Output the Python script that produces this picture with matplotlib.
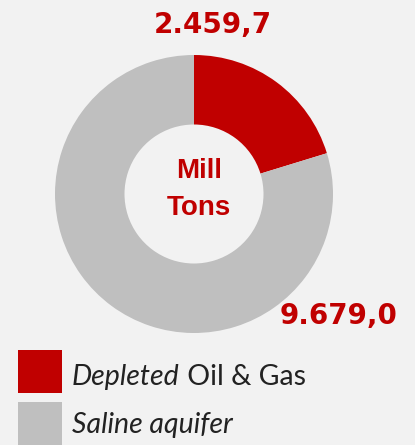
import matplotlib
matplotlib.use('Agg')
import matplotlib.pyplot as plt
from matplotlib.patches import Rectangle

CATEGORIES = ['Depleted Oil & Gas', 'Saline aquifer']
VALUES = [2459.7, 9679.0]
COLORS = ['#c00000', '#bfbfbf']
CENTER_TEXT = ['Mill', 'Tons']

BG = '#f2f2f2'
W, H = 415, 445


def fmt(v):
    # european style: 2.459,7
    s = '{:,.1f}'.format(v)
    return s.replace(',', 'X').replace('.', ',').replace('X', '.')


def main():
    fig = plt.figure(figsize=(W / 100, H / 100), dpi=100, facecolor=BG)
    ax = fig.add_axes([0, 0, 1, 1])
    ax.set_facecolor(BG)

    cx, cy, r = 194, H - 194, 139
    ax.pie(VALUES, colors=COLORS, startangle=90, counterclock=False,
           center=(cx, cy), radius=r,
           wedgeprops=dict(width=r * 0.5, linewidth=0))
    ax.set_xlim(0, W)
    ax.set_ylim(0, H)
    ax.set_aspect('equal')
    ax.axis('off')

    num_font = dict(family='DejaVu Sans', weight='bold', color='#c00000', fontsize=20)
    ax.text(213, H - 33, fmt(VALUES[0]), ha='center', va='baseline', **num_font)
    ax.text(339, H - 324, fmt(VALUES[1]), ha='center', va='baseline', **num_font)

    mid_font = dict(family='Liberation Sans', weight='bold', color='#c00000', fontsize=20)
    ax.text(199, H - 178, CENTER_TEXT[0], ha='center', va='baseline', **mid_font)
    ax.text(199, H - 215, CENTER_TEXT[1], ha='center', va='baseline', **mid_font)

    # legend
    leg_font = dict(family='Lato', fontsize=20.5, color='#222222')
    sq = [(18, 350), (18, 402)]
    for (x, y), c in zip(sq, COLORS):
        ax.add_patch(Rectangle((x, H - y - 43), 44, 43, color=c, lw=0))
    t1 = ax.text(72, H - 385, CATEGORIES[0].split(' ')[0], style='italic',
                 ha='left', va='baseline', **leg_font)
    ax.annotate(' ' + CATEGORIES[0].split(' ', 1)[1], xy=(1, 0), xycoords=t1,
                ha='left', va='bottom', **leg_font)
    ax.text(72, H - 433, CATEGORIES[1], style='italic', ha='left', va='baseline', **leg_font)

    fig.savefig('out.png', dpi=100, facecolor=BG)


if __name__ == '__main__':
    main()
